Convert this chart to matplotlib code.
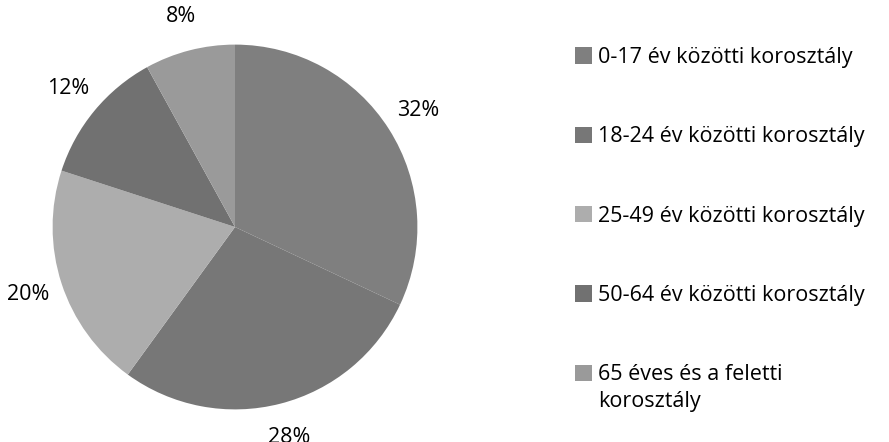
import matplotlib.pyplot as plt

labels = ['0-17 év közötti korosztály',
          '18-24 év közötti korosztály',
          '25-49 év közötti korosztály',
          '50-64 év közötti korosztály',
          '65 éves és a feletti']
label_tail = 'korosztály'  # second line of the last legend entry
values = [32, 28, 20, 12, 8]
colors = ['#7f7f7f', '#777777', '#adadad', '#717171', '#9a9a9a']

plt.rcParams['font.family'] = ['Open Sans', 'DejaVu Sans']

fig = plt.figure(figsize=(8.89, 4.42), dpi=100)
ax = fig.add_axes([7 / 889, -13 / 442, 456 / 889, 456 / 442])

wedges, texts, autotexts = ax.pie(values, colors=colors, startangle=90,
                                  counterclock=False, autopct='%.0f%%',
                                  pctdistance=1.19,
                                  textprops={'fontsize': 15.5, 'color': 'black'})
ax.set_xlim(-1.25, 1.25)
ax.set_ylim(-1.25, 1.25)
ax.set_aspect('equal')

leg = fig.legend(wedges, labels, loc='upper left', bbox_to_anchor=(575 / 889, 1 - 47 / 442),
                 frameon=False, fontsize=15.5, handlelength=0.78, handleheight=0.78,
                 handletextpad=0.28, labelspacing=2.71, borderpad=0, borderaxespad=0)

# wrapped part of the last entry, kept below its first line like the reference
fig.canvas.draw()
ax.annotate(label_tail, xy=(0, 0), xycoords=leg.get_texts()[-1],
            xytext=(0, -4), textcoords='offset points',
            ha='left', va='top', fontsize=15.5)

fig.savefig('out.png', dpi=100)
